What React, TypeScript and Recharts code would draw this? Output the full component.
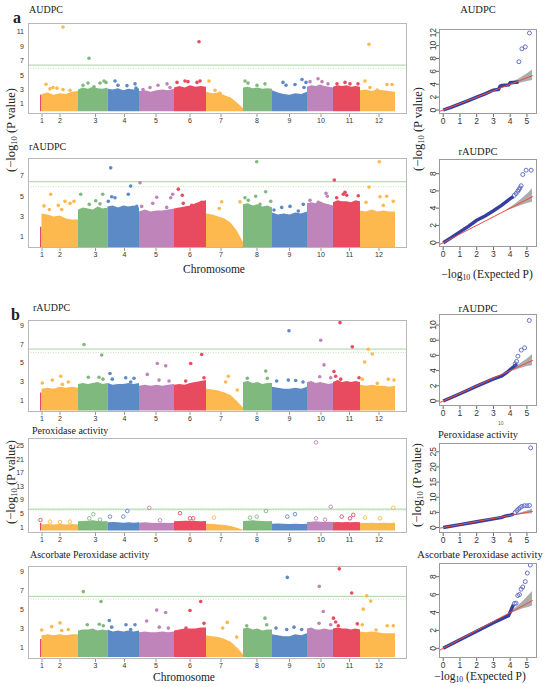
import React from 'react';
import { ComposedChart, Area, Scatter, Line, XAxis, YAxis, ReferenceLine } from 'recharts';

const SERIF = '"Liberation Serif", "Times New Roman", serif';
const SANS = '"Liberation Sans", Arial, sans-serif';

const RED = '#E84A5F';
const ORANGE = '#FDB84E';
const GREEN = '#80B97D';
const BLUE = '#5B8AC7';
const PURPLE = '#BF84B9';

// ---------- Manhattan plot data ----------
const chromosomes = ['1', '2', '3', '4', '5', '6', '7', '8', '9', '10', '11', '12'];
const chrColors = [RED, ORANGE, GREEN, BLUE, PURPLE, RED, ORANGE, GREEN, BLUE, PURPLE, RED, ORANGE];
// cumulative genomic position (arbitrary units) of each chromosome
const chrStart = [0, 1.5, 38, 67.5, 99, 134, 166, 203, 232, 267, 293, 320];
const chrEnd = [1.5, 38, 67.5, 99, 134, 166, 203, 232, 267, 293, 320, 355];
const chrTickPos = [2, 20, 55.5, 84.5, 116, 150, 181, 217, 249.5, 281, 309.5, 339];

type Dot = [number, number, number]; // [chromosome, cumulative position, -log10 P]

// upper edge of the dense SNP cloud along each chromosome
const a1Tops: number[][] = [
  [2.3, 2.3],
  [2.4, 2.6, 2.3, 2.5, 2.4, 2.7, 2.8],
  [3.0, 3.3, 3.1, 3.4, 3.2, 3.1, 3.3],
  [3.1, 3.0, 3.2, 2.9, 3.1, 3.0, 3.2],
  [2.8, 2.9, 2.7, 2.9, 3.0, 2.9, 3.1],
  [3.3, 3.5, 3.3, 3.6, 3.4, 3.5, 3.4],
  [2.7, 2.5, 2.6, 2.2, 1.9, 1.2, 0.4],
  [3.3, 3.4, 3.2, 3.3, 3.1, 3.2, 3.1],
  [2.9, 2.6, 2.4, 2.3, 2.5, 2.4, 2.7],
  [3.4, 3.6, 3.5, 3.7, 3.5, 3.4, 3.3],
  [3.4, 3.6, 3.5, 3.6, 3.4, 3.5, 3.4],
  [2.9, 3.0, 2.8, 3.0, 2.9, 2.8, 2.7],
];
const a1Dots: Dot[] = [
  [2, 6, 3.75], [2, 10, 3.1], [2, 13, 3.3], [2, 17, 3.2], [2, 23, 3.0], [2, 30, 2.9], [2, 23, 11.7],
  [3, 43, 3.6], [3, 48, 3.9], [3, 54, 3.4], [3, 60, 3.9], [3, 64, 4.2], [3, 66, 4.0], [3, 49, 7.35],
  [4, 75, 4.2], [4, 78, 3.6], [4, 87, 3.55], [4, 95, 3.8], [4, 96, 3.2],
  [5, 103, 3.0], [5, 110, 3.3], [5, 118, 3.6], [5, 127, 3.8], [5, 130, 3.3],
  [6, 137, 4.0], [6, 145, 4.2], [6, 148, 4.1], [6, 157, 4.0], [6, 160, 4.2], [6, 159, 9.65],
  [7, 169, 4.2], [7, 175, 2.9], [7, 180, 2.5],
  [8, 205, 4.2], [8, 208, 3.9], [8, 217, 3.6], [8, 225, 3.8],
  [9, 243, 4.0], [9, 246, 3.6], [9, 255, 3.7], [9, 262, 4.4], [9, 264, 3.3], [9, 266, 4.0],
  [10, 270, 4.1], [10, 278, 4.5], [10, 282, 4.1], [10, 288, 3.8],
  [11, 297, 3.8], [11, 305, 4.0], [11, 310, 3.8], [11, 318, 3.8],
  [12, 325, 4.2], [12, 330, 3.3], [12, 337, 2.95], [12, 347, 3.7], [12, 352, 3.7], [12, 329, 9.3],
];

const a2Tops: number[][] = [
  [2.0, 2.0],
  [3.3, 3.2, 3.0, 3.1, 2.8, 2.7, 2.7],
  [3.7, 3.9, 3.8, 3.7, 4.0, 3.8, 3.9],
  [4.0, 4.1, 3.9, 4.1, 4.0, 4.1, 3.9],
  [3.5, 3.7, 3.5, 3.6, 3.6, 3.7, 3.8],
  [3.8, 3.9, 4.0, 4.1, 4.3, 4.5, 4.6],
  [3.3, 3.2, 3.0, 2.8, 2.4, 1.6, 0.5],
  [4.2, 4.3, 4.1, 4.2, 4.0, 4.1, 3.9],
  [3.4, 3.2, 3.3, 3.2, 3.4, 3.3, 3.5],
  [4.3, 4.4, 4.3, 4.5, 4.3, 4.2, 4.1],
  [4.4, 4.6, 4.5, 4.5, 4.4, 4.6, 4.5],
  [3.6, 3.5, 3.7, 3.5, 3.6, 3.5, 3.5],
];
const a2Dots: Dot[] = [
  [2, 4, 4.05], [2, 10.7, 5.2], [2, 9.3, 3.7], [2, 18.3, 4.1], [2, 25, 4.5], [2, 30, 4.3], [2, 34, 4.5], [2, 21.7, 3.7],
  [3, 40.7, 5.2], [3, 49.3, 4.2], [3, 55.7, 4.55], [3, 62.7, 5.2], [3, 60, 4.25],
  [4, 68.3, 4.5], [4, 71.7, 4.95], [4, 75, 4.85], [4, 70.7, 7.8], [4, 88.3, 5.2], [4, 90.7, 6.0], [4, 96.7, 4.0],
  [5, 100, 6.33], [5, 101.7, 4.0], [5, 112.7, 4.3], [5, 116.7, 4.9], [5, 130.7, 4.85], [5, 132.7, 5.2], [5, 126.7, 3.9],
  [6, 138.3, 5.7], [6, 142.3, 5.1], [6, 143.3, 4.3], [6, 151.7, 4.1], [6, 161.7, 4.4],
  [7, 181.7, 4.45], [7, 179.3, 3.8], [7, 200, 4.45],
  [8, 205, 4.85], [8, 208.3, 4.6], [8, 216.7, 8.4], [8, 215.7, 5.0], [8, 225.7, 5.45], [8, 220, 4.2], [8, 230.7, 4.5],
  [9, 234, 3.65], [9, 241.7, 3.9], [9, 250, 4.0], [9, 258.3, 3.55], [9, 263.3, 4.2],
  [10, 270, 4.6], [10, 278.3, 4.4], [10, 286, 5.3], [10, 287.3, 5.0],
  [11, 294.3, 6.6], [11, 296.7, 4.85], [11, 303.3, 5.2], [11, 305, 5.4], [11, 306.7, 5.1], [11, 318.3, 5.05],
  [12, 326, 4.4], [12, 329, 5.9], [12, 340, 4.95], [12, 346.7, 5.0], [12, 339.3, 8.4], [12, 343.3, 4.1], [12, 353.3, 4.5],
];

const b1Tops: number[][] = [
  [1.9, 1.9],
  [2.3, 2.4, 2.3, 2.5, 2.4, 2.5, 2.4],
  [2.8, 2.9, 2.8, 2.9, 3.0, 2.8, 2.9],
  [2.9, 2.7, 2.8, 2.8, 2.9, 2.8, 2.9],
  [2.6, 2.7, 2.6, 2.7, 2.6, 2.7, 2.8],
  [2.7, 2.8, 2.7, 2.9, 3.0, 3.1, 3.2],
  [2.3, 2.2, 2.1, 1.9, 1.6, 1.0, 0.3],
  [3.0, 3.1, 2.9, 3.0, 2.8, 2.9, 2.9],
  [2.5, 2.4, 2.3, 2.3, 2.4, 2.3, 2.5],
  [3.0, 3.1, 2.9, 3.0, 2.9, 2.8, 2.9],
  [3.0, 3.2, 3.0, 3.1, 3.0, 3.1, 3.0],
  [2.7, 2.6, 2.7, 2.6, 2.6, 2.5, 2.6],
];
const b1Dots: Dot[] = [
  [2, 2.3, 2.9], [2, 12.3, 3.2], [2, 20.7, 3.6], [2, 22.3, 2.75], [2, 28.3, 3.0],
  [3, 44, 6.95], [3, 48.3, 3.5], [3, 59, 3.5], [3, 61.7, 5.85], [3, 63, 3.3],
  [4, 70, 3.9], [4, 72.3, 3.3], [4, 85.7, 3.45], [4, 94, 3.4], [4, 90.7, 3.0],
  [5, 107.3, 3.8], [5, 117.3, 4.95], [5, 125.7, 4.7], [5, 119, 3.2], [5, 129, 3.1],
  [6, 150.7, 4.95], [6, 161.7, 5.9], [6, 164, 3.45], [6, 145.7, 3.1],
  [7, 188.3, 3.6], [7, 185.7, 3.0], [7, 197.3, 2.15],
  [8, 225.7, 4.15], [8, 207.3, 3.4], [8, 227.3, 3.4],
  [9, 249, 8.4], [9, 236.7, 3.1], [9, 248.3, 3.2], [9, 255.7, 3.15], [9, 263, 3.0],
  [10, 280.7, 7.4], [10, 284, 4.8], [10, 279.7, 3.55], [10, 290.7, 3.45],
  [11, 300, 9.25], [11, 312.3, 6.7], [11, 294, 4.1], [11, 295.7, 3.6], [11, 300.7, 3.3], [11, 319, 3.45],
  [12, 328.3, 6.45], [12, 332.3, 5.95], [12, 324.7, 5.1], [12, 322.3, 3.3], [12, 337.3, 2.85], [12, 348.3, 3.3], [12, 354, 3.2],
];

const b2Tops: number[][] = [
  [2.2, 2.2],
  [1.8, 1.9, 1.8, 1.9, 1.8, 1.9, 1.8],
  [2.7, 2.8, 2.9, 3.0, 2.8, 2.7, 2.8],
  [2.4, 2.5, 2.4, 2.3, 2.4, 2.3, 2.4],
  [2.3, 2.4, 2.3, 2.2, 2.3, 2.2, 2.3],
  [2.7, 2.8, 2.9, 2.9, 2.8, 2.7, 2.8],
  [2.0, 1.9, 1.8, 1.6, 1.3, 0.8, 0.2],
  [2.8, 2.9, 3.0, 2.9, 2.8, 2.7, 2.8],
  [2.0, 2.1, 2.0, 1.9, 2.0, 1.9, 2.0],
  [2.5, 2.6, 2.7, 2.6, 2.5, 2.6, 2.5],
  [2.4, 2.5, 2.4, 2.5, 2.4, 2.5, 2.4],
  [2.3, 2.2, 2.3, 2.2, 2.3, 2.2, 2.3],
];
const b2Dots: Dot[] = [
  [1, 0.5, 3.1],
  [2, 10, 2.6], [2, 20, 2.5], [2, 30, 2.6],
  [3, 53.3, 4.8], [3, 49.3, 3.6], [3, 60, 3.2],
  [4, 70, 4.1], [4, 83.3, 4.1], [4, 87.3, 5.75],
  [5, 109.3, 6.7], [5, 120, 3.0],
  [6, 140, 5.1], [6, 150, 3.6], [6, 153.3, 3.6],
  [7, 174, 3.8],
  [8, 226, 5.75], [8, 216.7, 4.1], [8, 210, 3.8],
  [9, 247.3, 4.1], [9, 255, 4.8],
  [10, 276, 26.0], [10, 290.7, 7.0], [10, 276, 3.6], [10, 285, 3.2],
  [11, 301.7, 4.1], [11, 313.3, 4.6], [11, 310, 3.6],
  [12, 353.3, 6.7], [12, 325, 3.8], [12, 340, 3.6],
];

const b3Tops: number[][] = [
  [1.9, 1.9],
  [2.3, 2.4, 2.3, 2.4, 2.3, 2.4, 2.4],
  [2.8, 2.9, 2.9, 3.0, 2.8, 2.9, 2.8],
  [2.9, 2.7, 2.8, 2.7, 2.8, 2.7, 2.8],
  [2.6, 2.7, 2.6, 2.6, 2.7, 2.6, 2.7],
  [2.8, 2.9, 3.0, 3.0, 3.0, 3.1, 3.1],
  [2.3, 2.2, 2.1, 1.9, 1.6, 1.0, 0.3],
  [3.0, 3.1, 2.9, 3.0, 2.8, 2.9, 2.9],
  [2.4, 2.3, 2.2, 2.2, 2.4, 2.3, 2.5],
  [3.0, 3.1, 2.9, 2.9, 3.0, 2.9, 2.9],
  [3.0, 3.1, 3.0, 3.0, 2.9, 3.0, 2.9],
  [2.7, 2.6, 2.7, 2.6, 2.5, 2.5, 2.5],
];
const b3Dots: Dot[] = [
  [2, 1.7, 2.85], [2, 11.7, 3.2], [2, 20, 3.6], [2, 21.7, 2.8], [2, 28.3, 2.9],
  [3, 43.3, 6.9], [3, 47.3, 3.4], [3, 59.3, 3.45], [3, 61, 5.85], [3, 63.3, 3.3],
  [4, 69.3, 3.85], [4, 71.7, 3.15], [4, 86, 3.4], [4, 95, 3.4], [4, 90.7, 2.9],
  [5, 106.7, 3.8], [5, 116.7, 4.95], [5, 125.7, 4.7], [5, 119.3, 3.15], [5, 128.3, 3.05],
  [6, 150, 4.9], [6, 160.7, 5.85], [6, 164, 3.55], [6, 146, 3.05],
  [7, 187.3, 3.65], [7, 182.7, 3.05], [7, 196.7, 2.1],
  [8, 225, 4.1], [8, 206.7, 3.3], [8, 226.7, 3.4],
  [9, 247.3, 8.4], [9, 236, 3.05], [9, 246.7, 2.9], [9, 254, 3.15], [9, 261.7, 2.9],
  [10, 279.3, 7.45], [10, 283.3, 4.8], [10, 279, 3.55], [10, 290.7, 3.4],
  [11, 299.3, 9.3], [11, 311.7, 6.75], [11, 293.5, 4.1], [11, 295.7, 3.7], [11, 298.3, 3.3], [11, 317.3, 3.5],
  [12, 326.7, 6.45], [12, 330.7, 5.9], [12, 323.3, 5.05], [12, 322.3, 3.4], [12, 336, 2.85], [12, 347.3, 3.3], [12, 353.3, 3.3],
];

// ---------- QQ plot data: [expected, observed] ----------
type Pt = [number, number];
const qqDiagonal = [-0.3, 5.35];
const qqXTicks = [0, 1, 2, 3, 4, 5];

const qqA1Line: Pt[] = [[0, 0], [0.5, 0.45], [1, 0.95], [1.5, 1.45], [2, 2.0], [2.5, 2.5], [3, 3.1], [3.3, 3.2], [3.4, 3.7], [3.5, 3.8], [3.9, 3.9], [4.0, 4.25], [4.5, 4.35]];
const qqA1Dots: Pt[] = [[4.52, 7.5], [4.7, 9.5], [4.9, 9.8], [5.15, 11.95]];
const qqA1Band: [number, number, number][] = [[3.5, 3.45, 3.6], [4.0, 3.85, 4.2], [4.5, 4.2, 4.9], [5.0, 4.5, 5.7], [5.3, 4.65, 6.3]];

const qqA2Line: Pt[] = [[0, 0], [0.5, 0.6], [1, 1.25], [1.5, 1.9], [2, 2.6], [2.5, 3.1], [3, 3.7], [3.5, 4.35], [4, 5.1], [4.2, 5.35]];
const qqA2Dots: Pt[] = [[4.25, 5.5], [4.35, 5.7], [4.45, 5.95], [4.52, 6.15], [4.58, 6.35], [4.65, 6.6], [4.75, 7.9], [4.95, 8.4], [5.25, 8.4]];
const qqA2Band: [number, number, number][] = [[3.8, 3.75, 3.9], [4.2, 4.05, 4.4], [4.6, 4.35, 5.0], [5.0, 4.6, 5.7], [5.3, 4.75, 6.3]];

const qqB1Line: Pt[] = [[0, 0], [1, 0.95], [2, 1.95], [3, 2.9], [3.5, 3.3], [3.8, 3.75], [4.0, 4.15], [4.2, 4.5], [4.4, 4.85]];
const qqB1Dots: Pt[] = [[4.3, 4.9], [4.38, 5.2], [4.46, 5.9], [4.66, 6.7], [4.86, 7.0], [5.14, 10.6]];
const qqB1Band: [number, number, number][] = [[3.8, 3.75, 3.9], [4.2, 4.05, 4.4], [4.6, 4.35, 5.0], [5.0, 4.6, 5.6], [5.3, 4.7, 6.2]];

const qqB2Line: Pt[] = [[0, 0], [1, 0.95], [2, 1.9], [3, 2.85], [3.5, 3.35], [3.7, 3.8], [4.0, 4.1], [4.2, 4.4]];
const qqB2Dots: Pt[] = [[4.3, 5.0], [4.4, 5.6], [4.5, 6.1], [4.6, 6.6], [4.7, 7.0], [4.85, 7.2], [5.0, 7.2], [5.15, 7.3], [5.22, 26.3]];
const qqB2Band: [number, number, number][] = [[3.8, 3.75, 3.9], [4.2, 4.05, 4.4], [4.6, 4.35, 5.0], [5.0, 4.6, 5.6], [5.3, 4.7, 6.2]];

const qqB3Line: Pt[] = [[0, 0], [1, 0.95], [2, 1.9], [3, 2.85], [3.9, 3.65], [4.0, 4.05], [4.1, 4.5], [4.2, 4.9]];
const qqB3Dots: Pt[] = [[4.25, 5.0], [4.35, 5.05], [4.45, 5.9], [4.55, 6.0], [4.65, 6.6], [4.75, 6.85], [4.9, 7.45], [5.02, 8.4], [5.2, 9.3]];
const qqB3Band: [number, number, number][] = [[3.9, 3.85, 4.0], [4.3, 4.15, 4.6], [4.7, 4.45, 5.2], [5.0, 4.6, 5.8], [5.3, 4.75, 6.4]];

// ---------- helpers ----------
function cloudData(tops: number[], c: number) {
  const s = chrStart[c];
  const e = chrEnd[c];
  return tops.map((v, i) => ({ x: s + ((e - s) * i) / (tops.length - 1), y: v }));
}

const MAN_LEFT = 28;
const MAN_RIGHT = 407;
const MAN_X_DOMAIN: [number, number] = [-12, 367];

type ManProps = {
  top: number;
  bottom: number;
  tops: number[][];
  dots: Dot[];
  yDomain: [number, number];
  yTicks: number[];
  solid: number;
  dotted: number;
  hollow?: boolean;
};

function Manhattan({ top, bottom, tops, dots, yDomain, yTicks, solid, dotted, hollow }: ManProps) {
  const yW = 22;
  const mT = 2;
  const mR = 2;
  const xH = 14;
  const w = MAN_RIGHT - MAN_LEFT;
  const h = bottom - top;
  return (
    <div style={{ position: 'absolute', left: MAN_LEFT - yW, top: top - mT, width: yW + w + mR, height: mT + h + xH }}>
      <ComposedChart width={yW + w + mR} height={mT + h + xH} margin={{ top: mT, right: mR, bottom: 0, left: 0 }}>
        <XAxis
          type="number"
          dataKey="x"
          domain={MAN_X_DOMAIN}
          allowDataOverflow
          ticks={chrTickPos}
          interval={0}
          tickFormatter={(v: number) => chromosomes[chrTickPos.indexOf(v)] ?? ''}
          height={xH}
          axisLine={false}
          tickLine={{ stroke: '#999' }}
          tickSize={3}
          tickMargin={1}
          tick={{ fontSize: 7, fill: '#333', fontFamily: SANS }}
        />
        <YAxis
          type="number"
          dataKey="y"
          domain={yDomain}
          allowDataOverflow
          ticks={yTicks}
          interval={0}
          width={yW}
          axisLine={false}
          tickLine={false}
          tickSize={0}
          tickMargin={4}
          tick={{ fontSize: 7, fill: '#333', fontFamily: SANS }}
        />
        {tops.map((t, c) => (
          <Area
            key={'cloud' + c}
            data={cloudData(t, c)}
            dataKey="y"
            type="linear"
            stroke="none"
            fill={chrColors[c]}
            fillOpacity={1}
            isAnimationActive={false}
          />
        ))}
        <ReferenceLine y={solid} stroke="#A6D49F" strokeWidth={1} />
        <ReferenceLine y={dotted} stroke="#B8DCB1" strokeWidth={0.8} strokeDasharray="1 1.5" />
        {chromosomes.map((_, c) => {
          const color = chrColors[c];
          const pts = dots.filter((d) => d[0] === c + 1).map((d) => ({ x: d[1], y: d[2] }));
          return (
            <Scatter
              key={'dots' + c}
              data={pts}
              dataKey="y"
              isAnimationActive={false}
              shape={(p: any) =>
                hollow ? (
                  <circle cx={p.cx} cy={p.cy} r={1.8} fill="#fff" fillOpacity={0.3} stroke={color} strokeWidth={0.9} />
                ) : (
                  <circle cx={p.cx} cy={p.cy} r={1.8} fill={color} />
                )
              }
            />
          );
        })}
      </ComposedChart>
      <div
        style={{
          position: 'absolute',
          left: yW,
          top: mT,
          width: w,
          height: h,
          border: '1px solid #B8B8B8',
          boxSizing: 'border-box',
          pointerEvents: 'none',
        }}
      />
    </div>
  );
}

const QQ_LEFT = 439;
const QQ_RIGHT = 537;
const QQ_X_DOMAIN: [number, number] = [-0.25, 5.6];

function RotTick(props: any) {
  const { x, y, payload } = props;
  return (
    <text
      x={x}
      y={y}
      transform={`rotate(-90, ${x}, ${y})`}
      textAnchor="middle"
      fontSize={8.5}
      fontFamily={SANS}
      fill="#333"
    >
      {payload.value}
    </text>
  );
}

type QQProps = {
  top: number;
  bottom: number;
  yDomain: [number, number];
  yTicks: number[];
  line: Pt[];
  dots: Pt[];
  band: [number, number, number][];
};

function QQ({ top, bottom, yDomain, yTicks, line, dots, band }: QQProps) {
  const yW = 22;
  const mT = 2;
  const mR = 3;
  const xH = 16;
  const w = QQ_RIGHT - QQ_LEFT;
  const h = bottom - top;
  const lineData = line.map(([x, y]) => ({ x, y }));
  const dotData = dots.map(([x, y]) => ({ x, y }));
  const bandData = band.map(([x, lo, hi]) => ({ x, range: [lo, hi] }));
  const diag = qqDiagonal.map((v) => ({ x: v, y: v }));
  return (
    <div style={{ position: 'absolute', left: QQ_LEFT - yW, top: top - mT, width: yW + w + mR, height: mT + h + xH }}>
      <ComposedChart width={yW + w + mR} height={mT + h + xH} margin={{ top: mT, right: mR, bottom: 0, left: 0 }}>
        <XAxis
          type="number"
          dataKey="x"
          domain={QQ_X_DOMAIN}
          allowDataOverflow
          ticks={qqXTicks}
          interval={0}
          height={xH}
          axisLine={false}
          tickLine={{ stroke: '#666' }}
          tickSize={3}
          tickMargin={1}
          tick={{ fontSize: 8.5, fill: '#333', fontFamily: SANS }}
        />
        <YAxis
          type="number"
          dataKey="y"
          domain={yDomain}
          allowDataOverflow
          ticks={yTicks}
          interval={0}
          width={yW}
          axisLine={false}
          tickLine={{ stroke: '#666' }}
          tickSize={3}
          tickMargin={0}
          tick={<RotTick />}
        />
        <Area data={bandData} dataKey="range" type="linear" stroke="none" fill="#9E9E9E" fillOpacity={0.85} isAnimationActive={false} />
        <Line data={lineData} dataKey="y" type="linear" stroke="#33409E" strokeWidth={3.4} dot={false} isAnimationActive={false} />
        <Line data={diag} dataKey="y" type="linear" stroke="#EE4B3E" strokeWidth={1} dot={false} isAnimationActive={false} />
        <Scatter
          data={dotData}
          dataKey="y"
          isAnimationActive={false}
          shape={(p: any) => <circle cx={p.cx} cy={p.cy} r={2} fill="none" stroke="#5863BE" strokeWidth={0.9} />}
        />
      </ComposedChart>
      <div
        style={{
          position: 'absolute',
          left: yW,
          top: mT,
          width: w,
          height: h,
          border: '1px solid #9A9A9A',
          boxSizing: 'border-box',
          pointerEvents: 'none',
        }}
      />
    </div>
  );
}

function Label({ x, y, text, size = 10, anchor = 'left', bold = false }: { x: number; y: number; text: string; size?: number; anchor?: 'left' | 'center'; bold?: boolean }) {
  return (
    <div
      style={{
        position: 'absolute',
        left: x,
        top: y,
        transform: anchor === 'center' ? 'translate(-50%, -50%)' : 'translateY(-50%)',
        fontFamily: SERIF,
        fontSize: size,
        fontWeight: bold ? 700 : 400,
        color: '#222',
        whiteSpace: 'nowrap',
        lineHeight: 1,
      }}
    >
      {text}
    </div>
  );
}

function LogLabel({ x, y, rest, rotate }: { x: number; y: number; rest: string; rotate: boolean }) {
  return (
    <div
      style={{
        position: 'absolute',
        left: x,
        top: y,
        transform: rotate ? 'translate(-50%, -50%) rotate(-90deg)' : 'translate(-50%, -50%)',
        fontFamily: SERIF,
        fontSize: rotate ? 12.5 : 11.5,
        color: '#222',
        whiteSpace: 'nowrap',
        lineHeight: 1,
      }}
    >
      {rotate ? '(' : ''}−log<sub style={{ fontSize: '0.68em', verticalAlign: '-0.25em', lineHeight: 0 }}>10</sub>
      {rest}
    </div>
  );
}

export default function App() {
  return (
    <div style={{ position: 'absolute', left: 0, top: 0, width: 550, height: 687, background: '#fff', overflow: 'hidden' }}>
      {/* panel a */}
      <Label x={13} y={18} text="a" size={16} bold />
      <Label x={29} y={10} text="AUDPC" />
      <Manhattan top={23} bottom={114} tops={a1Tops} dots={a1Dots} yDomain={[-0.39, 12.25]} yTicks={[1, 3, 5, 7, 9, 11]} solid={6.4} dotted={5.9} />
      <Label x={29} y={147} text="rAUDPC" />
      <Manhattan top={158} bottom={248} tops={a2Tops} dots={a2Dots} yDomain={[-0.1, 8.77]} yTicks={[1, 3, 5, 7]} solid={6.43} dotted={5.94} />
      <Label x={214} y={270} text="Chromosome" size={11.5} anchor="center" />
      <LogLabel x={11} y={130} rest=" (P value)" rotate />

      <Label x={478} y={10} text="AUDPC" size={10.5} anchor="center" />
      <QQ top={29} bottom={114} yDomain={[-0.62, 12.58]} yTicks={[0, 2, 4, 6, 8, 10, 12]} line={qqA1Line} dots={qqA1Dots} band={qqA1Band} />
      <Label x={478} y={152} text="rAUDPC" size={10.5} anchor="center" />
      <QQ top={159} bottom={247} yDomain={[-0.5, 9.7]} yTicks={[0, 2, 4, 6, 8]} line={qqA2Line} dots={qqA2Dots} band={qqA2Band} />
      <LogLabel x={418} y={129} rest=" (P value)" rotate />
      <LogLabel x={487} y={275} rest=" (Expected P)" rotate={false} />

      {/* panel b */}
      <Label x={11} y={315} text="b" size={16} bold />
      <Label x={33} y={308} text="rAUDPC" />
      <Manhattan top={320} bottom={412} tops={b1Tops} dots={b1Dots} yDomain={[-0.16, 9.53]} yTicks={[1, 3, 5, 7, 9]} solid={6.47} dotted={6.1} />
      <Label x={32} y={431} text="Peroxidase activity" />
      <Manhattan top={438} bottom={533} tops={b2Tops} dots={b2Dots} yDomain={[-0.74, 27.3]} yTicks={[1, 5, 9, 13, 17, 21, 25]} solid={6.3} dotted={6.0} hollow />
      <Label x={30} y={555} text="Ascorbate Peroxidase activity" />
      <Manhattan top={566} bottom={659} tops={b3Tops} dots={b3Dots} yDomain={[-0.21, 9.6]} yTicks={[1, 3, 5, 7, 9]} solid={6.4} dotted={6.1} />
      <Label x={184} y={678} text="Chromosome" size={11.5} anchor="center" />
      <LogLabel x={11} y={482} rest=" (P value)" rotate />

      <Label x={478} y={309} text="rAUDPC" size={10.5} anchor="center" />
      <QQ top={314} bottom={406} yDomain={[-0.66, 11.45]} yTicks={[0, 2, 4, 6, 8, 10]} line={qqB1Line} dots={qqB1Dots} band={qqB1Band} />
      <div style={{ position: 'absolute', left: 498, top: 421, fontSize: 5, fontFamily: SANS, color: '#666', lineHeight: 1 }}>10</div>
      <Label x={478} y={435} text="Peroxidase activity" size={10.5} anchor="center" />
      <QQ top={443} bottom={533} yDomain={[-1.8, 27.9]} yTicks={[0, 5, 10, 15, 20, 25]} line={qqB2Line} dots={qqB2Dots} band={qqB2Band} />
      <LogLabel x={417} y={485} rest=" (P value)" rotate />
      <Label x={480} y={555} text="Ascorbate Peroxidase activity" size={10.5} anchor="center" />
      <QQ top={563} bottom={658} yDomain={[-1.08, 9.53]} yTicks={[0, 2, 4, 6, 8]} line={qqB3Line} dots={qqB3Dots} band={qqB3Band} />
      <LogLabel x={480} y={677} rest=" (Expected P)" rotate={false} />
    </div>
  );
}
